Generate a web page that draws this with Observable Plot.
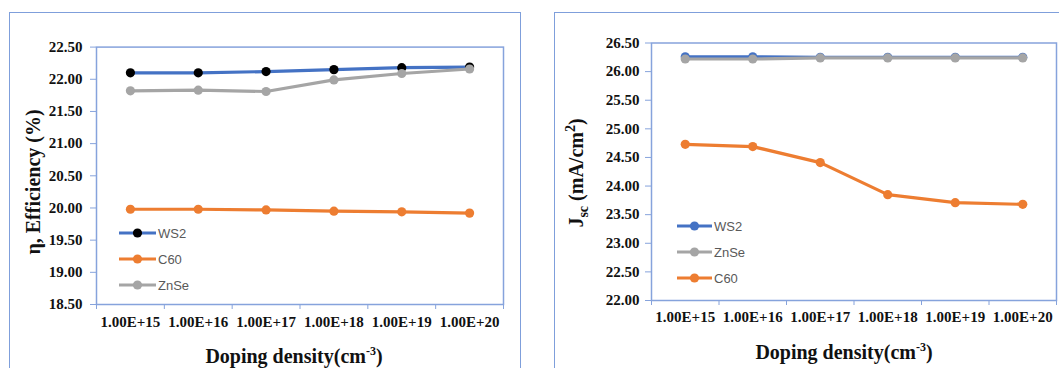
<!DOCTYPE html>
<html><head><meta charset="utf-8">
<script src="https://cdn.jsdelivr.net/npm/d3@7"></script>
<script src="https://cdn.jsdelivr.net/npm/@observablehq/plot@0.6"></script>
<style>
body{margin:0;background:#fff;}
#wrap{position:relative;width:1059px;height:368px;overflow:hidden;background:#fff;}
.box{position:absolute;border:1.5px solid #7F9FDB;box-sizing:border-box;}
.panel{position:absolute;top:0;}
</style></head><body>
<div id="wrap">
  <div class="box" style="left:9px;top:12px;width:512px;height:420px"></div>
  <div class="box" style="left:554px;top:12px;width:600px;height:420px"></div>
  <div id="p1" class="panel" style="left:0"></div>
  <div id="p2" class="panel" style="left:530px"></div>
</div>
<script>
// ---- data ----
const dopingLabels = ["1.00E+15","1.00E+16","1.00E+17","1.00E+18","1.00E+19","1.00E+20"];
const effWS2  = [22.10, 22.10, 22.12, 22.15, 22.18, 22.19];
const effC60  = [19.98, 19.98, 19.97, 19.95, 19.94, 19.92];
const effZnSe = [21.82, 21.83, 21.81, 21.99, 22.09, 22.16];
const jscWS2  = [26.26, 26.26, 26.25, 26.25, 26.25, 26.25];
const jscZnSe = [26.22, 26.22, 26.24, 26.24, 26.24, 26.24];
const jscC60  = [24.73, 24.69, 24.41, 23.85, 23.71, 23.68];
const effTicks = [18.5, 19.0, 19.5, 20.0, 20.5, 21.0, 21.5, 22.0, 22.5];
const jscTicks = [22.0, 22.5, 23.0, 23.5, 24.0, 24.5, 25.0, 25.5, 26.0, 26.5];

// ---- styles ----
const FRAME = "#86A3DC";
const BLUE = "#4472C4", ORANGE = "#ED7D31", GRAY = "#A5A5A5";
const SERIF = "'Liberation Serif', 'Times New Roman', serif";

function panel(o) {
  const idx = dopingLabels.map((_, i) => i);
  const between = d3.range(-0.5, dopingLabels.length, 1);
  const marks = [
    Plot.frame({stroke: FRAME, strokeWidth: 1.5}),
    Plot.axisY({ticks: o.ticks, tickFormat: d => d.toFixed(2), tickSize: 6, tickPadding: o.yPad, stroke: FRAME, fill: "#111", label: null}),
    Plot.axisX({ticks: idx, tickFormat: i => dopingLabels[i], tickSize: 0, tickPadding: o.xPad, fill: "#111", label: null}),
    Plot.axisX({ticks: between, tickFormat: () => "", tickSize: 5, stroke: FRAME, label: null})
  ];
  for (const s of o.series) {
    const rows = s.values.map((v, i) => ({i, v}));
    marks.push(Plot.line(rows, {x: "i", y: "v", stroke: s.color, strokeWidth: 3.2}));
    marks.push(Plot.dot(rows, {x: "i", y: "v", fill: s.marker, r: 4.6}));
  }
  const svg = Plot.plot({
    width: o.width, height: 368,
    marginLeft: o.ml, marginRight: o.mr, marginTop: o.mt, marginBottom: o.mb,
    x: {domain: [-0.5, dopingLabels.length - 0.5]},
    y: {domain: o.domain},
    style: {font: `bold 15px ${SERIF}`, background: "transparent", overflow: "visible"},
    marks
  });
  const g = d3.select(svg);
  // legend
  o.series.forEach((s, k) => {
    const y = o.legY[k];
    g.append("line").attr("x1", o.legX[0]).attr("x2", o.legX[1]).attr("y1", y).attr("y2", y)
      .attr("stroke", s.color).attr("stroke-width", 3.2);
    g.append("circle").attr("cx", (o.legX[0] + o.legX[1]) / 2).attr("cy", y).attr("r", 4.6).attr("fill", s.marker);
    g.append("text").attr("x", o.legX[1] + 2).attr("y", y).attr("dy", "0.35em").attr("text-anchor", "start")
      .attr("font-family", "'Liberation Sans', Arial, sans-serif").attr("font-size", 13).attr("font-weight", "normal")
      .attr("fill", "#595959").text(s.name);
  });
  // x title
  const xt = g.append("text").attr("x", o.xTitle[0]).attr("y", o.xTitle[1]).attr("text-anchor", "middle")
    .attr("font-family", SERIF).attr("font-weight", "bold").attr("font-size", 20).attr("fill", "#111");
  xt.append("tspan").text("Doping density(cm");
  xt.append("tspan").attr("font-size", 12).attr("dy", -8).text("-3");
  xt.append("tspan").attr("dy", 8).text(")");
  // y title
  const yt = g.append("text").attr("transform", `translate(${o.yTitle[0]},${o.yTitle[1]}) rotate(-90)`)
    .attr("text-anchor", "middle").attr("dy", "0.35em")
    .attr("font-family", SERIF).attr("font-weight", "bold").attr("font-size", 20).attr("fill", "#111");
  o.yTitleParts(yt);
  document.getElementById(o.id).appendChild(svg);
}

panel({
  id: "p1", width: 530, ml: 96, mr: 27, mt: 46.6, mb: 64,
  domain: [18.5, 22.5], ticks: effTicks, yPad: 8, xPad: 12,
  series: [
    {name: "WS2", values: effWS2, color: BLUE, marker: "#000"},
    {name: "C60", values: effC60, color: ORANGE, marker: ORANGE},
    {name: "ZnSe", values: effZnSe, color: GRAY, marker: GRAY}
  ],
  legX: [119, 156], legY: [233, 259, 285],
  xTitle: [294, 363], yTitle: [33, 182],
  yTitleParts: t => t.append("tspan").text("η, Efficiency (%)")
});

panel({
  id: "p2", width: 529, ml: 121, mr: 3, mt: 42.5, mb: 68,
  domain: [22.0, 26.5], ticks: jscTicks, yPad: 6, xPad: 11,
  series: [
    {name: "WS2", values: jscWS2, color: BLUE, marker: BLUE},
    {name: "ZnSe", values: jscZnSe, color: GRAY, marker: GRAY},
    {name: "C60", values: jscC60, color: ORANGE, marker: ORANGE}
  ],
  legX: [147, 182], legY: [226, 252, 278],
  xTitle: [314, 359], yTitle: [46, 173],
  yTitleParts: t => {
    t.append("tspan").text("J");
    t.append("tspan").attr("font-size", 14).attr("dy", 5).text("sc");
    t.append("tspan").attr("dy", -5).text(" (mA/cm");
    t.append("tspan").attr("font-size", 14).attr("dy", -8).text("2");
    t.append("tspan").attr("dy", 8).text(")");
  }
});
</script>
</body></html>
